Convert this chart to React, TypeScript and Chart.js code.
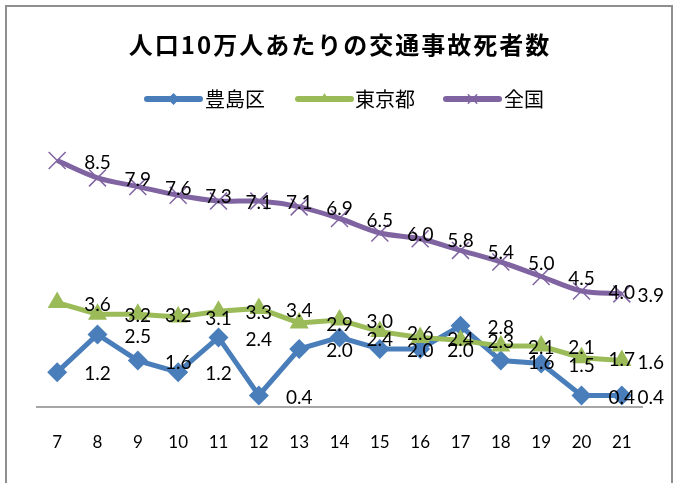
import React, { useEffect, useRef } from "react";
import { Chart, registerables } from "chart.js";

Chart.register(...registerables);

const categories = ["7", "8", "9", "10", "11", "12", "13", "14", "15", "16", "17", "18", "19", "20", "21"];
const toshimaValues = [1.2, 2.5, 1.6, 1.2, 2.4, 0.4, 2.0, 2.4, 2.0, 2.0, 2.8, 1.6, 1.5, 0.4, 0.4];
const tokyoValues = [3.6, 3.2, 3.2, 3.1, 3.3, 3.4, 2.9, 3.0, 2.6, 2.4, 2.3, 2.1, 2.1, 1.7, 1.6];
const zenkokuValues = [8.5, 7.9, 7.6, 7.3, 7.1, 7.1, 6.9, 6.5, 6.0, 5.8, 5.4, 5.0, 4.5, 4.0, 3.9];
const seriesNames = ["豊島区", "東京都", "全国"];
const titleText = "人口10万人あたりの交通事故死者数";

const BLUE = "#4A7EBB";
const GREEN = "#9BBB59";
const PURPLE = "#8064A2";

const CJK = '"Noto Sans CJK JP", "Noto Sans", sans-serif';
const NUM = 'Lato, "Liberation Sans", sans-serif';

const framePlugin = {
  id: "frame",
  beforeDraw(chart: any) {
    const ctx = chart.ctx;
    ctx.save();
    ctx.fillStyle = "#ffffff";
    ctx.fillRect(0, 0, chart.width, chart.height);
    ctx.strokeStyle = "#8e8e8e";
    ctx.lineWidth = 2;
    ctx.strokeRect(6, 6, 666, 520);
    ctx.restore();
  },
};

const titlePlugin = {
  id: "customTitle",
  afterDraw(chart: any) {
    const ctx = chart.ctx;
    ctx.save();
    ctx.font = `bold 24px ${CJK}`;
    (ctx as any).letterSpacing = "2px";
    ctx.fillStyle = "#000";
    ctx.textBaseline = "middle";
    ctx.textAlign = "left";
    const w = ctx.measureText(titleText).width - 2;
    ctx.fillText(titleText, 339 - w / 2, 45);
    ctx.restore();
  },
};

function drawMarker(ctx: CanvasRenderingContext2D, kind: string, x: number, y: number, r: number, color: string) {
  ctx.save();
  ctx.fillStyle = color;
  ctx.strokeStyle = color;
  ctx.beginPath();
  if (kind === "diamond") {
    ctx.moveTo(x, y - r);
    ctx.lineTo(x + r, y);
    ctx.lineTo(x, y + r);
    ctx.lineTo(x - r, y);
    ctx.closePath();
    ctx.fill();
  } else if (kind === "triangle") {
    ctx.moveTo(x, y - r);
    ctx.lineTo(x + r * 0.866, y + r * 0.5);
    ctx.lineTo(x - r * 0.866, y + r * 0.5);
    ctx.closePath();
    ctx.fill();
  } else {
    ctx.lineWidth = 1.5;
    const o = r * 0.707;
    ctx.moveTo(x - o, y - o);
    ctx.lineTo(x + o, y + o);
    ctx.moveTo(x + o, y - o);
    ctx.lineTo(x - o, y + o);
    ctx.stroke();
  }
  ctx.restore();
}

const legendPlugin = {
  id: "customLegend",
  afterDraw(chart: any) {
    const ctx = chart.ctx;
    const items = [
      { name: seriesNames[0], color: BLUE, kind: "diamond", x0: 147, x1: 200, tx: 205 },
      { name: seriesNames[1], color: GREEN, kind: "triangle", x0: 298, x1: 351, tx: 355 },
      { name: seriesNames[2], color: PURPLE, kind: "cross", x0: 446, x1: 499, tx: 504 },
    ];
    const y = 99;
    ctx.save();
    for (const it of items) {
      ctx.strokeStyle = it.color;
      ctx.lineWidth = 6;
      ctx.lineCap = "round";
      ctx.beginPath();
      ctx.moveTo(it.x0, y);
      ctx.lineTo(it.x1, y);
      ctx.stroke();
      drawMarker(ctx, it.kind, (it.x0 + it.x1) / 2, y, 6, it.color);
      ctx.fillStyle = "#000";
      ctx.font = `20px ${CJK}`;
      ctx.textBaseline = "middle";
      ctx.textAlign = "left";
      ctx.fillText(it.name, it.tx, y);
    }
    ctx.restore();
  },
};

const labelPlugin = {
  id: "shiftedLabels",
  afterDatasetsDraw(chart: any) {
    const ctx = chart.ctx;
    ctx.save();
    ctx.font = `19px ${NUM}`;
    ctx.fillStyle = "#000";
    ctx.textAlign = "center";
    ctx.textBaseline = "middle";
    chart.data.datasets.forEach((ds: any, di: number) => {
      const meta = chart.getDatasetMeta(di);
      const pts = meta.data;
      const step = pts.length > 1 ? pts[1].x - pts[0].x : 40;
      pts.forEach((p: any, i: number) => {
        const text = Number(ds.data[i]).toFixed(1);
        const w = ctx.measureText(text).width;
        let cx = p.x + step;
        if (cx + w / 2 > 664) cx = 664 - w / 2;
        ctx.fillText(text, cx, p.y + 2);
      });
    });
    ctx.restore();
  },
};

export default function App() {
  const ref = useRef<HTMLCanvasElement | null>(null);
  useEffect(() => {
    if (!ref.current) return;
    const chart = new Chart(ref.current, {
      type: "line",
      data: {
        labels: categories,
        datasets: [
          {
            label: seriesNames[0],
            data: toshimaValues,
            borderColor: BLUE,
            backgroundColor: BLUE,
            borderWidth: 5,
            pointStyle: "rectRot",
            pointRadius: 10,
            pointBackgroundColor: BLUE,
            pointBorderColor: BLUE,
            pointBorderWidth: 0,
            tension: 0,
            order: 2,
          },
          {
            label: seriesNames[1],
            data: tokyoValues,
            borderColor: GREEN,
            backgroundColor: GREEN,
            borderWidth: 5,
            pointStyle: "triangle",
            pointRadius: 11,
            pointBackgroundColor: GREEN,
            pointBorderColor: GREEN,
            pointBorderWidth: 0,
            tension: 0,
            order: 1,
          },
          {
            label: seriesNames[2],
            data: zenkokuValues,
            borderColor: PURPLE,
            backgroundColor: PURPLE,
            borderWidth: 5,
            pointStyle: "crossRot",
            pointRadius: 12,
            pointBorderColor: PURPLE,
            pointBorderWidth: 1.5,
            tension: 0.3,
            order: 0,
          },
        ],
      },
      options: {
        responsive: false,
        animation: false,
        layout: { padding: { left: 37, right: 41, top: 117, bottom: 0 } },
        plugins: {
          legend: { display: false },
          title: { display: false },
          tooltip: { enabled: false },
        },
        scales: {
          x: {
            offset: true,
            grid: { display: false, drawTicks: false },
            border: { display: true, color: "#a6a6a6", width: 2 },
            ticks: { color: "#000", font: { family: NUM, size: 17 }, padding: 25 },
            afterFit: (s: any) => {
              s.height = 76;
            },
          },
          y: {
            display: false,
            min: 0,
            max: 10,
          },
        },
      },
      plugins: [framePlugin, titlePlugin, legendPlugin, labelPlugin],
    });
    return () => chart.destroy();
  }, []);
  return (
    <div style={{ position: "absolute", left: 0, top: 0, width: 683, height: 483, background: "#fff" }}>
      <canvas ref={ref} width={683} height={483} style={{ display: "block" }} />
    </div>
  );
}
